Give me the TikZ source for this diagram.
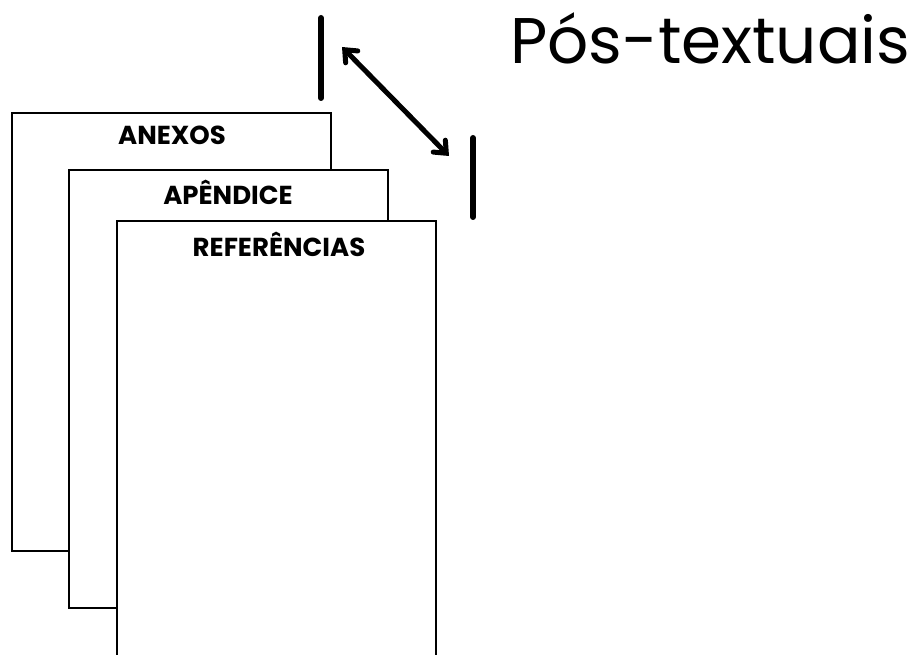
\documentclass[tikz,border=0pt]{standalone}
\usepackage{fontspec}
\setmainfont{Poppins}
\usetikzlibrary{arrows.meta}
\begin{document}
\begin{tikzpicture}[x=1pt,y=-1pt,
  page/.style={draw=black,fill=white,line width=2.6pt},
  lbl/.style={font=\fontsize{26}{30}\selectfont\bfseries,anchor=center,inner sep=0pt},
  bar/.style={line width=6pt,line cap=round},
  dbl/.style={line width=5pt,{Straight Barb[length=10pt,width=17pt,line cap=round]}-{Straight Barb[length=10pt,width=17pt,line cap=round]}}]
\useasboundingbox (0,0) rectangle (914,655);
\draw[page] (12,113) rectangle (331,551);
\draw[page] (69,170) rectangle (388,608);
\draw[page] (117,221) rectangle (436,680);
\node[lbl] (anexos) at (172,135) {ANEXOS};
\node[lbl] (apendice) at (228,192) {APÊNDICE};
\node[lbl] (refs) at (279,244) {REFERÊNCIAS};
\coordinate (b1t) at (321,18);
\coordinate (b1b) at (321,98);
\coordinate (b2t) at (473,138);
\coordinate (b2b) at (473,217);
\draw[bar] (b1t) -- (b1b);
\draw[bar] (b2t) -- (b2b);
\coordinate (a1) at (342,47);
\coordinate (a2) at (449,156);
\draw[dbl] (a1) -- (a2);
\node[font=\fontsize{64.5}{72}\selectfont,anchor=base west,inner sep=0pt] (title) at (510,64) {Pós-textuais};
\end{tikzpicture}
\end{document}
